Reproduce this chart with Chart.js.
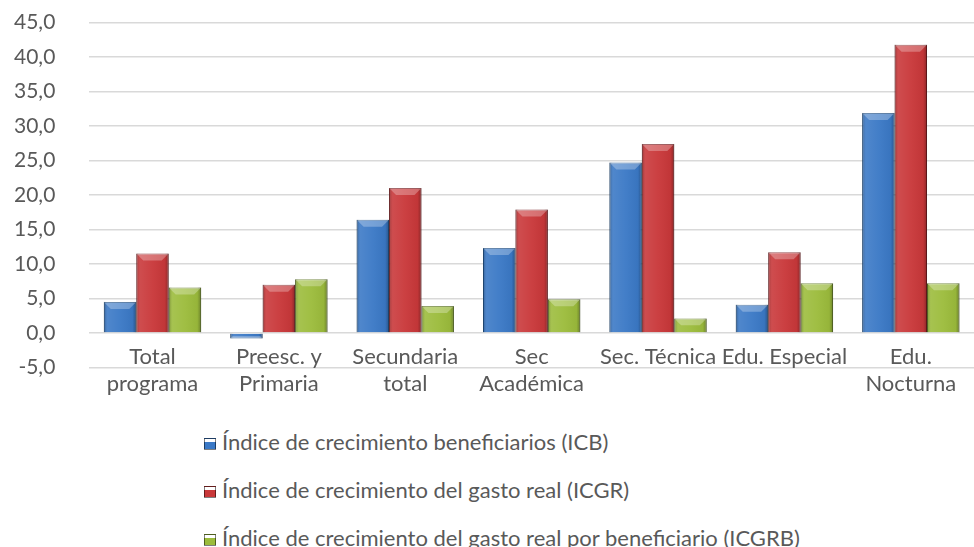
<!DOCTYPE html>
<html lang="es">
<head>
<meta charset="UTF-8">
<title>Índices de crecimiento</title>
<script src="https://cdn.jsdelivr.net/npm/chart.js@4.4.0/dist/chart.umd.min.js"></script>
<style>
  body { margin: 0; background: #fff; font-family: Lato, sans-serif; }
  #wrap { position: relative; width: 974px; height: 547px; overflow: hidden; }
  #chart { position: absolute; left: 0; top: -24px; }
  #legend { position: absolute; left: 204px; top: 428px; color: #595959; font-size: 22px; }
  #legend div { height: 48px; display: flex; align-items: flex-start; }
  #legend span.box { display: inline-block; width: 12px; height: 12px; margin: 10px 6px 0 0; border: 1px solid rgba(0,0,0,0.5); box-sizing: border-box; }
</style>
</head>
<body>
<div id="wrap">
  <canvas id="chart" width="974" height="438"></canvas>
  <div id="legend"></div>
</div>
<script>
var categories = [["Total","programa"], ["Preesc. y","Primaria"], ["Secundaria","total"], ["Sec","Académica"], "Sec. Técnica", "Edu. Especial", ["Edu.","Nocturna"]];
var seriesNames = ["Índice de crecimiento beneficiarios (ICB)", "Índice de crecimiento del gasto real (ICGR)", "Índice de crecimiento del gasto real por beneficiario (ICGRB)"];
var icb   = [4.5, -0.8, 16.4, 12.3, 24.7, 4.1, 31.9];
var icgr  = [11.5, 7.0, 21.0, 17.9, 27.4, 11.7, 41.8];
var icgrb = [6.6, 7.8, 3.9, 4.9, 2.1, 7.2, 7.2];
var colors  = ['#3b79c6', '#c9383a', '#9cbc3c'];
var borders = ['#1f4f86', '#7a1f22', '#5d7520'];

// bevel look like the Excel 3D bars
var bevel = {
  id: 'bevel',
  afterDatasetsDraw: function(chart) {
    var ctx = chart.ctx;
    chart.data.datasets.forEach(function(ds, i) {
      chart.getDatasetMeta(i).data.forEach(function(el) {
        var p = el.getProps(['x', 'y', 'base', 'width'], true);
        var l = p.x - p.width / 2, r = p.x + p.width / 2;
        var t = Math.min(p.y, p.base), b = Math.max(p.y, p.base);
        var h = b - t;
        if (h < 1) return;
        ctx.save();
        var g = ctx.createLinearGradient(l, 0, r, 0);
        g.addColorStop(0, 'rgba(0,0,0,0.25)');
        g.addColorStop(0.12, 'rgba(255,255,255,0.10)');
        g.addColorStop(0.5, 'rgba(255,255,255,0.04)');
        g.addColorStop(0.88, 'rgba(0,0,0,0.04)');
        g.addColorStop(1, 'rgba(0,0,0,0.3)');
        ctx.fillStyle = g;
        ctx.fillRect(l, t, r - l, h);
        var bv = Math.min(7, h / 2);
        ctx.beginPath();
        if (p.y <= p.base) {
          ctx.moveTo(l, t); ctx.lineTo(r, t); ctx.lineTo(r - bv, t + bv); ctx.lineTo(l + bv, t + bv);
        } else {
          ctx.moveTo(l, b); ctx.lineTo(r, b); ctx.lineTo(r - bv, b - bv); ctx.lineTo(l + bv, b - bv);
        }
        ctx.closePath();
        ctx.fillStyle = 'rgba(255,255,255,0.28)';
        ctx.fill();
        ctx.restore();
      });
    });
  }
};

var ctx = document.getElementById('chart').getContext('2d');
var chart = new Chart(ctx, {
  type: 'bar',
  data: {
    labels: categories,
    datasets: [icb, icgr, icgrb].map(function(d, i) {
      return {
        label: seriesNames[i],
        data: d,
        backgroundColor: colors[i],
        borderColor: borders[i],
        borderWidth: 1,
        barPercentage: 1,
        categoryPercentage: 0.77
      };
    })
  },
  options: {
    responsive: false,
    animation: false,
    layout: { padding: { top: 10, right: 0, left: -20, bottom: 0 } },
    plugins: { legend: { display: false }, tooltip: { enabled: false } },
    scales: {
      x: {
        position: { y: 0 },
        afterFit: function(s) { s.height = 0; },
        grid: { display: false },
        border: { display: false },
        ticks: { color: '#595959', font: { family: 'Lato', size: 22, lineHeight: 1.25 }, maxRotation: 0, autoSkip: false, padding: 2 }
      },
      y: {
        min: -5, max: 45,
        grid: { color: '#d9d9d9', lineWidth: 1.5, drawTicks: false },
        border: { display: false },
        ticks: {
          stepSize: 5, color: '#595959', padding: 34,
          font: { family: 'Lato', size: 21 },
          callback: function(v) { return v.toFixed(1).replace('.', ','); }
        }
      }
    }
  },
  plugins: [bevel]
});

var leg = document.getElementById('legend');
seriesNames.forEach(function(n, i) {
  var row = document.createElement('div');
  var box = document.createElement('span');
  box.className = 'box';
  box.style.background = 'linear-gradient(180deg, rgba(255,255,255,0.4) 0, rgba(255,255,255,0.4) 30%, ' + colors[i] + ' 30%, ' + colors[i] + ' 100%)';
  row.appendChild(box);
  row.appendChild(document.createTextNode(n));
  leg.appendChild(row);
});
</script>
</body>
</html>
